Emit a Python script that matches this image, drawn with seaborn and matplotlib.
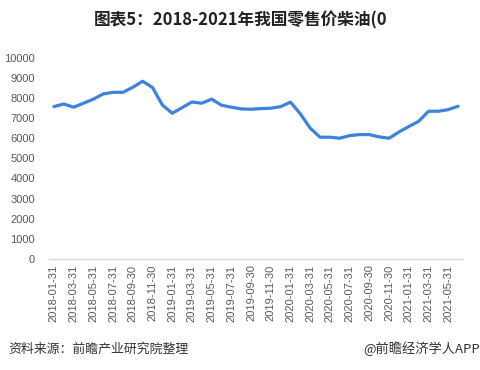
import matplotlib
matplotlib.use("Agg")
import matplotlib.pyplot as plt
import seaborn as sns
import pandas as pd

dates = pd.date_range("2018-01-31", periods=42, freq="ME").strftime("%Y-%m-%d").tolist()
prices = [7570, 7700, 7540, 7740, 7940, 8200, 8280, 8280, 8530, 8830, 8520, 7650,
          7240, 7520, 7800, 7740, 7940, 7640, 7540, 7455, 7440, 7470, 7490, 7570,
          7790, 7210, 6500, 6050, 6050, 6000, 6130, 6180, 6180, 6065, 6000, 6310,
          6580, 6840, 7340, 7340, 7420, 7590]
yticks = list(range(0, 10001, 1000))

title = "图表5：2018-2021年我国零售价柴油(0"
source = "资料来源：前瞻产业研究院整理"
brand = "@前瞻经济学人APP"

sns.set_theme(style="white")
plt.rcParams["font.family"] = ["Noto Sans CJK SC", "DejaVu Sans"]

df = pd.DataFrame({"date": dates, "price": prices, "idx": range(len(dates))})

fig = plt.figure(figsize=(4.81, 3.70), dpi=100)
ax = fig.add_axes([49/481, 1-259/370, (463-49)/481, (259-57.7)/370])
sns.lineplot(data=df, x="idx", y="price", ax=ax, color="#3D82DD", linewidth=2.3)

ax.set_xlim(-0.5, len(dates) - 0.5)
ax.set_ylim(0, 10000)
ax.set_yticks(yticks)
ax.set_yticklabels([str(v) for v in yticks], fontsize=8, color="#595959",
                   family=["Liberation Sans", "DejaVu Sans"])
ax.set_xticks(range(0, len(dates), 2))
ax.set_xticklabels(dates[::2], rotation=90, fontsize=8, color="#595959",
                   family=["Liberation Sans", "DejaVu Sans"])
ax.tick_params(axis="both", length=0, pad=4)
ax.tick_params(axis="y", pad=10)
ax.set_xlabel("")
ax.set_ylabel("")
for s in ["top", "right", "left"]:
    ax.spines[s].set_visible(False)
ax.spines["bottom"].set_color("#D9D9D9")
ax.spines["bottom"].set_linewidth(1.0)
ax.grid(False)

fig.text(0.5, 1-20/370, title, ha="center", va="center", fontsize=12,
         fontweight="bold", color="#222222")
fig.text(8/481, 1-349/370, source, ha="left", va="center", fontsize=9.3, color="#333333")
fig.text(480/481, 1-349/370, brand, ha="right", va="center", fontsize=9.5, color="#333333")

fig.savefig("out.png", dpi=100)
